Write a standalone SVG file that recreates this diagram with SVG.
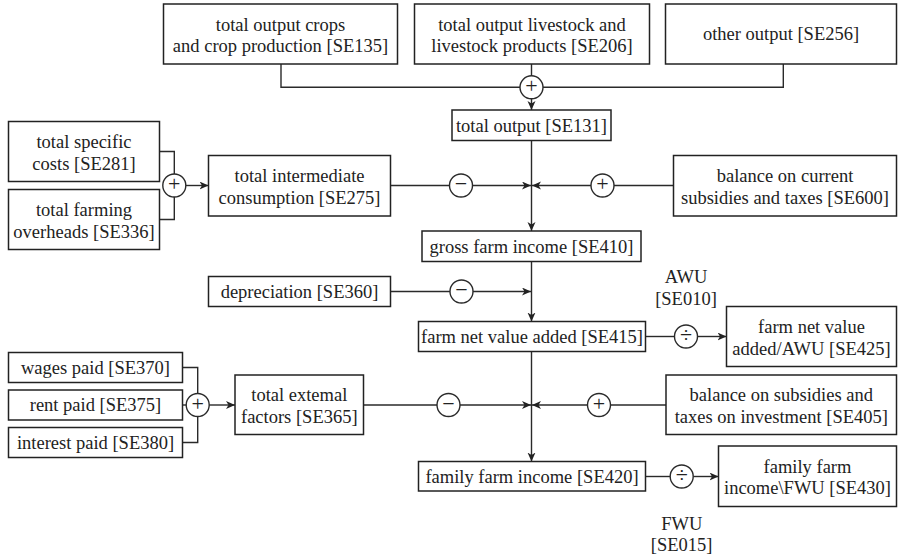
<svg xmlns="http://www.w3.org/2000/svg" width="898" height="554" viewBox="0 0 898 554">
<defs>
<style>
.box{fill:#fff;stroke:#222;stroke-width:1.5}
.t{font-family:"Liberation Serif","Times New Roman",serif;font-size:18.5px;fill:#222;text-anchor:middle}
.op{font-family:"Liberation Serif","Times New Roman",serif;font-size:22px;fill:#222;text-anchor:middle}
.ln{fill:none;stroke:#2a2a2a;stroke-width:1.4}
.ar{fill:none;stroke:#2a2a2a;stroke-width:1.4;marker-end:url(#ah)}
.oc{fill:#fff;stroke:#2a2a2a;stroke-width:1.4}
</style>
<marker id="ah" markerUnits="userSpaceOnUse" markerWidth="10" markerHeight="9" refX="9" refY="4" orient="auto">
<path d="M0,0 L9,4 L0,8 L2.5,4 z" fill="#222"/>
</marker>
</defs>
<rect width="898" height="554" fill="#fff"/>

<g id="connectors">
<path class="ln" d="M281,64 V87.3 H783.3 V64"/>
<path class="ln" d="M531.5,64 V87.3"/>
<path class="ar" d="M531.5,98.8 V110"/>
<path class="ar" d="M531.5,140.5 V231"/>
<path class="ln" d="M390.5,185.5 H449.5"/>
<path class="ar" d="M472.5,185.5 H531"/>
<path class="ln" d="M673.5,185.5 H614"/>
<path class="ar" d="M591,185.5 H532"/>
<path class="ln" d="M159.5,151.5 H174.3 V219.5 H159.5"/>
<path class="ar" d="M185.8,185.5 H208.5"/>
<path class="ar" d="M531.5,261.5 V321.5"/>
<path class="ln" d="M390.5,291.5 H450"/>
<path class="ar" d="M473,291.5 H531"/>
<path class="ln" d="M645.5,336.5 H674.5"/>
<path class="ar" d="M697.5,336.5 H726.5"/>
<path class="ar" d="M531.5,351.5 V461.5"/>
<path class="ln" d="M182.5,367.5 H197.7 V442.5 H182.5"/>
<path class="ln" d="M182.5,405 H186.2"/>
<path class="ar" d="M209.2,405 H235"/>
<path class="ln" d="M363.5,405 H437"/>
<path class="ar" d="M460,405 H531"/>
<path class="ln" d="M666,405 H610.5"/>
<path class="ar" d="M587.5,405 H532"/>
<path class="ln" d="M645.5,476.5 H670.2"/>
<path class="ar" d="M693.2,476.5 H718.5"/>
</g>

<g id="op-top"><circle class="oc" cx="531.5" cy="87.3" r="11.5"/><text class="op" x="531.5" y="92.8">+</text></g>
<g id="op-left1"><circle class="oc" cx="174.3" cy="185.5" r="11.5"/><text class="op" x="174.3" y="191">+</text></g>
<g id="op-minus1"><circle class="oc" cx="461" cy="185.5" r="11.5"/><text class="op" x="461" y="191">−</text></g>
<g id="op-plus1"><circle class="oc" cx="602.5" cy="185.5" r="11.5"/><text class="op" x="602.5" y="191">+</text></g>
<g id="op-minus2"><circle class="oc" cx="461.5" cy="291.5" r="11.5"/><text class="op" x="461.5" y="297">−</text></g>
<g id="op-div1"><circle class="oc" cx="686" cy="336.5" r="11.5"/><text class="op" x="686" y="342">÷</text></g>
<g id="op-left2"><circle class="oc" cx="197.7" cy="405" r="11.5"/><text class="op" x="197.7" y="410.5">+</text></g>
<g id="op-minus3"><circle class="oc" cx="448.5" cy="405" r="11.5"/><text class="op" x="448.5" y="410.5">−</text></g>
<g id="op-plus2"><circle class="oc" cx="599" cy="405" r="11.5"/><text class="op" x="599" y="410.5">+</text></g>
<g id="op-div2"><circle class="oc" cx="681.7" cy="476.5" r="11.5"/><text class="op" x="681.7" y="482">÷</text></g>

<g id="se135"><rect class="box" x="163.5" y="4" width="234" height="60"/><text class="t" x="280.5" y="30.5">total output crops</text><text class="t" x="280.5" y="52">and crop production [SE135]</text></g>
<g id="se206"><rect class="box" x="414.5" y="4" width="235" height="60"/><text class="t" x="532" y="30.5">total output livestock and</text><text class="t" x="532" y="52">livestock products [SE206]</text></g>
<g id="se256"><rect class="box" x="665.5" y="4" width="231" height="60"/><text class="t" x="781" y="40.3">other output [SE256]</text></g>
<g id="se131"><rect class="box" x="452" y="110" width="159" height="30.5"/><text class="t" x="531.5" y="131.6">total output [SE131]</text></g>
<g id="se281"><rect class="box" x="8.5" y="121.5" width="151" height="60"/><text class="t" x="84" y="148">total specific</text><text class="t" x="84" y="169.5">costs [SE281]</text></g>
<g id="se336"><rect class="box" x="8.5" y="189.5" width="151" height="60"/><text class="t" x="84" y="216">total farming</text><text class="t" x="84" y="237.5">overheads [SE336]</text></g>
<g id="se275"><rect class="box" x="208.5" y="155.5" width="182" height="60.5"/><text class="t" x="299.5" y="182.3">total intermediate</text><text class="t" x="299.5" y="203.8">consumption [SE275]</text></g>
<g id="se600"><rect class="box" x="673.5" y="155.5" width="223" height="60.5"/><text class="t" x="785" y="182.3">balance on current</text><text class="t" x="785" y="203.8">subsidies and taxes [SE600]</text></g>
<g id="se410"><rect class="box" x="422" y="231" width="219" height="30.5"/><text class="t" x="531.5" y="252.5">gross farm income [SE410]</text></g>
<g id="se360"><rect class="box" x="208.5" y="276.5" width="182" height="30"/><text class="t" x="299.5" y="297.8">depreciation [SE360]</text></g>
<g id="awu"><text class="t" x="686" y="283">AWU</text><text class="t" x="686" y="305">[SE010]</text></g>
<g id="se415"><rect class="box" x="418.5" y="321.5" width="227" height="30"/><text class="t" x="532" y="342.8">farm net value added [SE415]</text></g>
<g id="se425"><rect class="box" x="726.5" y="306.5" width="170" height="60"/><text class="t" x="811.5" y="333">farm net value</text><text class="t" x="811.5" y="354.5">added/AWU [SE425]</text></g>
<g id="se370"><rect class="box" x="8.5" y="352.5" width="174" height="30"/><text class="t" x="95.5" y="373.8">wages paid [SE370]</text></g>
<g id="se375"><rect class="box" x="8.5" y="390" width="174" height="30"/><text class="t" x="95.5" y="411.3">rent paid [SE375]</text></g>
<g id="se380"><rect class="box" x="8.5" y="427.5" width="174" height="30"/><text class="t" x="95.5" y="448.8">interest paid [SE380]</text></g>
<g id="se365"><rect class="box" x="235" y="375" width="128.5" height="59.5"/><text class="t" x="299.3" y="401.3">total extemal</text><text class="t" x="299.3" y="422.8">factors [SE365]</text></g>
<g id="se405"><rect class="box" x="666" y="375" width="230.5" height="59.5"/><text class="t" x="781.3" y="401.3">balance on subsidies and</text><text class="t" x="781.3" y="422.8">taxes on investment [SE405]</text></g>
<g id="se420"><rect class="box" x="418.5" y="461.5" width="227" height="29.5"/><text class="t" x="532" y="482.5">family farm income [SE420]</text></g>
<g id="se430"><rect class="box" x="718.5" y="446" width="178" height="60.5"/><text class="t" x="807.5" y="472.8">family farm</text><text class="t" x="807.5" y="494.3">income\FWU [SE430]</text></g>
<g id="fwu"><text class="t" x="681.7" y="530">FWU</text><text class="t" x="681.7" y="551">[SE015]</text></g>
</svg>
